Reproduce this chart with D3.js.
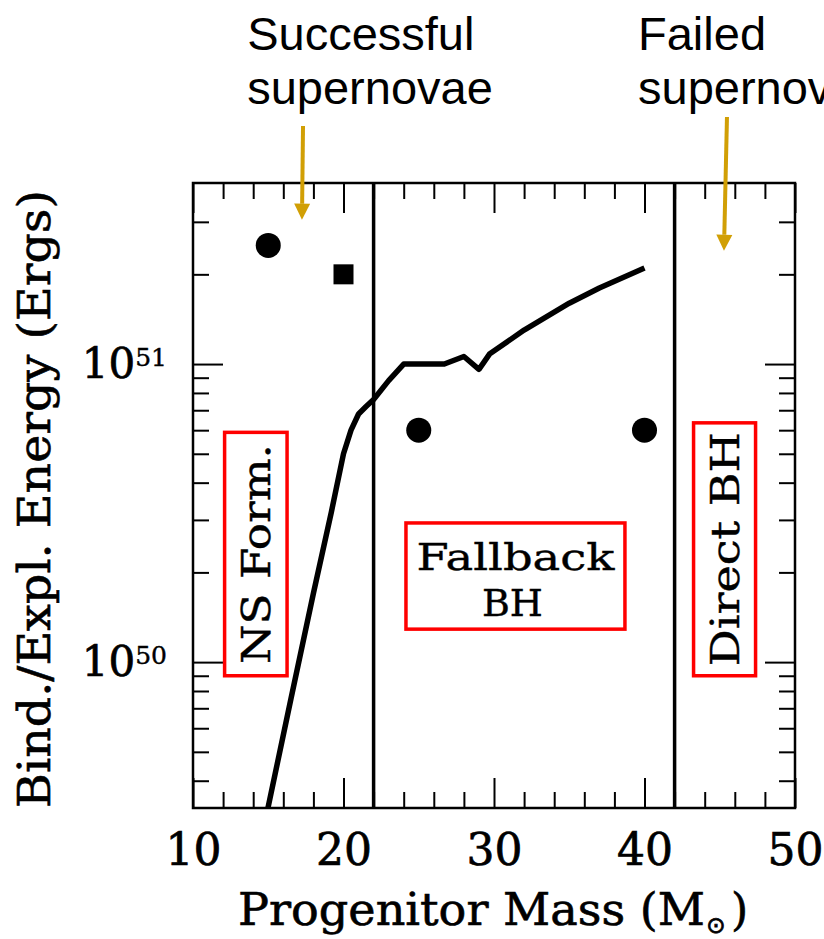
<!DOCTYPE html>
<html>
<head>
<meta charset="utf-8">
<script src="https://cdn.jsdelivr.net/npm/d3@7"></script>
<style>
  body { margin: 0; background: #fff; }
  svg { display: block; }
</style>
</head>
<body>
<div id="chart"></div>
<script>
// explosion energy curve (mass in solar masses, energy in ergs)
var lineMass   = [14.9, 16.5, 18, 19.2, 20, 20.5, 21, 21.5, 22, 23, 24, 25, 26.7, 28, 29, 29.7, 32, 35, 37, 40];
var lineEnergy = [3.1e49, 7.5e49, 1.7e50, 3.2e50, 5.0e50, 6.0e50, 6.8e50, 7.2e50, 7.6e50, 8.8e50,
                  1.0e51, 1.0e51, 1.0e51, 1.06e51, 9.6e50, 1.08e51, 1.3e51, 1.6e51, 1.8e51, 2.1e51];

// binding energies
var circleMass   = [15, 25, 40];
var circleEnergy = [2.5e51, 6e50, 6e50];
var squareMass   = [20];
var squareEnergy = [2e51];

// region boundaries
var boundaryMass = [22, 42];

// region boxes
var regionLabels  = ["NS Form.", "Fallback|BH", "Direct BH"];
var regionMass0   = [12.1, 24.15, 43.26];
var regionMass1   = [16.25, 38.7, 47.38];
var regionETop    = [5.9e50, 2.93e50, 6.35e50];
var regionEBottom = [9.0e49, 1.29e50, 9.0e49];

// annotations above the chart
var noteLines  = [["Successful", "supernovae"], ["Failed", "supernovae"]];
var noteMass   = [13.6, 39.57];
var arrowMass0 = [17.31, 45.48];
var arrowMass1 = [17.24, 45.28];
var arrowTipE  = [3.05e51, 2.4e51];

// ticks
var xMajor = [10, 20, 30, 40, 50];
var xMinor = [12, 14, 16, 18, 22, 24, 26, 28, 32, 34, 36, 38, 42, 44, 46, 48];
var yMajor = [1e50, 1e51];

var serif = "'DejaVu Serif', 'Liberation Serif', serif";
var gold = "#d19f05";

var margin = {top: 183, right: 29, bottom: 131, left: 193},
    full_width = 824, full_height = 939,
    width = full_width - margin.left - margin.right,
    height = full_height - margin.top - margin.bottom;

var x = d3.scaleLinear().domain([10, 50]).range([0, width]);
var y = d3.scaleLog().domain([3.24e49, 4.05e51]).range([height, 0]);

var yMinor = y.ticks().filter(function (d) {
    var p = y(d);
    return yMajor.indexOf(d) < 0 && p > 4 && p < height - 4;
});

var root = d3.select("#chart").append("svg")
    .attr("width", full_width)
    .attr("height", full_height);

var svg = root.append("g")
    .attr("transform", "translate(" + margin.left + "," + margin.top + ")");

svg.append("clipPath").attr("id", "plotclip")
    .append("rect").attr("width", width).attr("height", height);

// ticks on all four sides
function tickAxis(axis, values, size, cls) {
    var g = svg.append("g").attr("class", cls)
        .call(axis.tickValues(values).tickSize(-size).tickFormat(""));
    g.select(".domain").remove();
    g.selectAll(".tick line").attr("stroke-width", 2);
    return g;
}
tickAxis(d3.axisBottom(x), xMinor, 16, "xminor").attr("transform", "translate(0," + height + ")");
tickAxis(d3.axisTop(x), xMinor, 16, "xminor");
tickAxis(d3.axisTop(x), xMajor, 30, "xmajor");
tickAxis(d3.axisLeft(y), yMinor, 16, "yminor");
tickAxis(d3.axisRight(y), yMinor, 16, "yminor").attr("transform", "translate(" + width + ",0)");
tickAxis(d3.axisRight(y), yMajor, 30, "ymajor").attr("transform", "translate(" + width + ",0)");

var xAxis = svg.append("g")
    .attr("transform", "translate(0," + height + ")")
    .call(d3.axisBottom(x).tickValues(xMajor).tickSize(-30).tickPadding(26).tickFormat(d3.format("d")));
xAxis.select(".domain").remove();
xAxis.selectAll(".tick line").attr("stroke-width", 2);
xAxis.attr("font-family", serif).attr("font-size", 44);
xAxis.selectAll(".tick text")
    .attr("fill", "#000").attr("stroke", "#000").attr("stroke-width", 0.7);

var yAxis = svg.append("g")
    .call(d3.axisLeft(y).tickValues(yMajor).tickSize(-30).tickPadding(26).tickFormat(""));
yAxis.select(".domain").remove();
yAxis.selectAll(".tick line").attr("stroke-width", 2);
yAxis.attr("font-family", serif).attr("font-size", 42);
yAxis.selectAll(".tick text").each(function (d) {
    var t = d3.select(this).attr("fill", "#000").attr("dy", "0.31em")
        .attr("stroke", "#000").attr("stroke-width", 0.7);
    t.append("tspan").text("10");
    t.append("tspan").attr("font-size", 25).attr("stroke-width", 0.4)
        .attr("dy", -12).text(Math.round(Math.log10(d)));
});

// frame
svg.append("rect")
    .attr("width", width).attr("height", height)
    .attr("fill", "none").attr("stroke", "#000").attr("stroke-width", 2.5);

// boundaries
svg.selectAll(".boundary").data(boundaryMass).enter().append("line")
    .attr("class", "boundary")
    .attr("x1", function (d) { return x(d); })
    .attr("x2", function (d) { return x(d); })
    .attr("y1", 0).attr("y2", height)
    .attr("stroke", "#000").attr("stroke-width", 3.5);

// energy curve
var line = d3.line()
    .x(function (d, i) { return x(lineMass[i]); })
    .y(function (d) { return y(d); });

svg.append("path")
    .datum(lineEnergy)
    .attr("clip-path", "url(#plotclip)")
    .attr("d", line)
    .attr("fill", "none")
    .attr("stroke", "#000")
    .attr("stroke-width", 5.5)
    .attr("stroke-linejoin", "round");

// symbols
svg.selectAll(".dot").data(circleEnergy).enter().append("circle")
    .attr("class", "dot")
    .attr("cx", function (d, i) { return x(circleMass[i]); })
    .attr("cy", function (d) { return y(d); })
    .attr("r", 12.5)
    .attr("fill", "#000");

svg.selectAll(".sq").data(squareEnergy).enter().append("rect")
    .attr("class", "sq")
    .attr("x", function (d, i) { return x(squareMass[i]) - 10; })
    .attr("y", function (d) { return y(d) - 10; })
    .attr("width", 20).attr("height", 20)
    .attr("fill", "#000");

// region boxes
var box = svg.selectAll(".region").data(regionLabels).enter().append("g")
    .attr("class", "region")
    .attr("font-family", serif)
    .attr("stroke", "#000").attr("stroke-width", 0.4);

box.append("rect")
    .attr("x", function (d, i) { return x(regionMass0[i]); })
    .attr("y", function (d, i) { return y(regionETop[i]); })
    .attr("width", function (d, i) { return x(regionMass1[i]) - x(regionMass0[i]); })
    .attr("height", function (d, i) { return y(regionEBottom[i]) - y(regionETop[i]); })
    .attr("fill", "#fff")
    .attr("stroke", "#ff0000")
    .attr("stroke-width", 3.5);

box.each(function (d, i) {
    var g = d3.select(this);
    var cx = (x(regionMass0[i]) + x(regionMass1[i])) / 2,
        cy = (y(regionETop[i]) + y(regionEBottom[i])) / 2;
    var parts = d.split("|");
    if (parts.length === 1) {
        g.append("text")
            .attr("transform", "translate(" + cx + "," + cy + ") rotate(-90)")
            .attr("text-anchor", "middle")
            .attr("dy", "0.36em")
            .attr("font-size", 40)
            .attr("textLength", d.length > 8 ? 234 : 220)
            .attr("lengthAdjust", "spacingAndGlyphs")
            .text(d);
    } else {
        g.append("text")
            .attr("x", cx).attr("y", cy + 17 - 23)
            .attr("text-anchor", "middle")
            .attr("font-size", 38)
            .attr("textLength", 198)
            .attr("lengthAdjust", "spacingAndGlyphs")
            .text(parts[0]);
        g.append("text")
            .attr("x", cx - 3).attr("y", cy + 17 + 23)
            .attr("text-anchor", "middle")
            .attr("font-size", 38)
            .attr("textLength", 61)
            .attr("lengthAdjust", "spacingAndGlyphs")
            .text(parts[1]);
    }
});

// axis titles
root.append("text")
    .attr("transform", "translate(50,499) rotate(-90)")
    .attr("text-anchor", "middle")
    .attr("font-family", serif)
    .attr("font-size", 45)
    .attr("stroke", "#000").attr("stroke-width", 0.6)
    .attr("textLength", 618)
    .attr("lengthAdjust", "spacingAndGlyphs")
    .text("Bind./Expl. Energy (Ergs)");

var xt = root.append("g").attr("font-family", serif).attr("font-size", 44)
    .attr("stroke", "#000").attr("stroke-width", 0.6);
xt.append("text").attr("x", 238).attr("y", 925)
    .attr("textLength", 467).attr("lengthAdjust", "spacingAndGlyphs")
    .text("Progenitor Mass (M");
xt.append("text").attr("x", 716).attr("y", 925)
    .attr("text-anchor", "middle").attr("dominant-baseline", "central")
    .attr("font-family", "'DejaVu Sans', sans-serif")
    .attr("font-size", 23).attr("stroke-width", 0.8)
    .text("\u2299");
xt.append("text").attr("x", 731).attr("y", 925).text(")");

// annotations
var notes = root.append("g")
    .attr("font-family", "'Liberation Sans', Arial, sans-serif")
    .attr("font-size", 47);
noteLines.forEach(function (lines, i) {
    var t = notes.append("text")
        .attr("x", margin.left + x(noteMass[i]))
        .attr("y", 50);
    lines.forEach(function (s, j) {
        t.append("tspan")
            .attr("x", margin.left + x(noteMass[i]))
            .attr("dy", j ? 54 : 0)
            .text(s);
    });
});

var arrowTop = [126, 117];
noteLines.forEach(function (d, i) {
    var x0 = margin.left + x(arrowMass0[i]),
        x1 = margin.left + x(arrowMass1[i]),
        y0 = arrowTop[i],
        y1 = margin.top + y(arrowTipE[i]);
    var head = 16, hw = 8;
    var ang = Math.atan2(y1 - y0, x1 - x0);
    var bx = x1 - head * Math.cos(ang), by = y1 - head * Math.sin(ang);
    root.append("line")
        .attr("x1", x0).attr("y1", y0).attr("x2", bx).attr("y2", by)
        .attr("stroke", gold).attr("stroke-width", 4);
    root.append("path")
        .attr("d", "M" + x1 + "," + y1 +
            "L" + (bx + hw * Math.sin(ang)) + "," + (by - hw * Math.cos(ang)) +
            "L" + (bx - hw * Math.sin(ang)) + "," + (by + hw * Math.cos(ang)) + "Z")
        .attr("fill", gold);
});
</script>
</body>
</html>
